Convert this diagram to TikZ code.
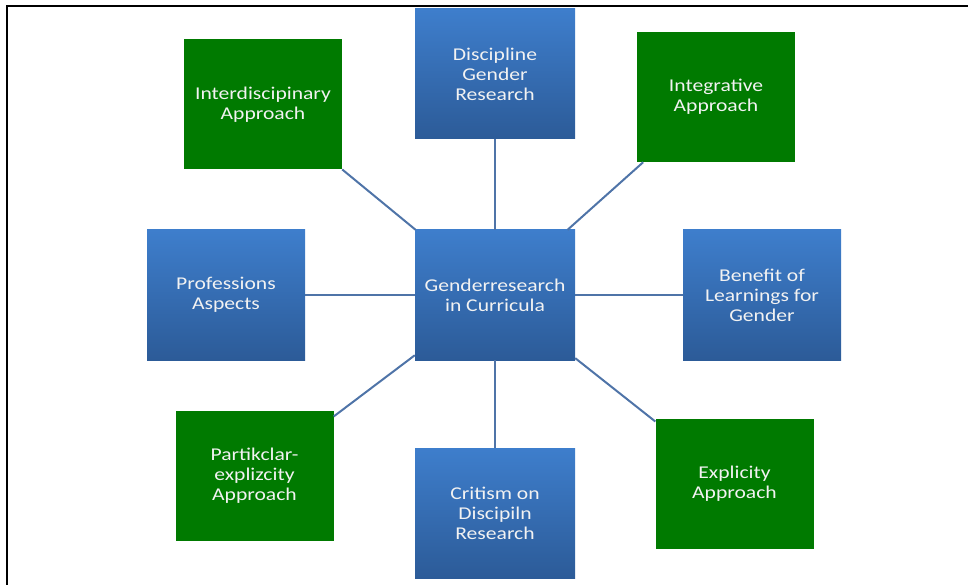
\documentclass[tikz,border=0pt]{standalone}
\usepackage{fontspec}
\setmainfont{Carlito}[FakeStretch=1.2]
\definecolor{boxtop}{RGB}{62,126,204}
\definecolor{boxbot}{RGB}{44,91,152}
\definecolor{boxgreen}{RGB}{0,122,0}
\definecolor{linkblue}{RGB}{79,116,168}
\definecolor{boxtext}{RGB}{242,242,242}
\tikzset{
  topic/.style={rectangle, inner sep=0pt, minimum width=158pt, minimum height=130pt,
                align=center, text=boxtext, font=\fontsize{18}{20}\selectfont},
  bluebox/.style={topic, top color=boxtop, bottom color=boxbot},
  greenbox/.style={topic, fill=boxgreen},
  link/.style={draw=linkblue, line width=2pt}
}
\begin{document}
\begin{tikzpicture}[x=1pt, y=-1pt]
\useasboundingbox (0,0) rectangle (968,585);
\draw[line width=2.5pt] (7,585) -- (7,6) -- (968,6);

\node[bluebox, minimum width=160pt](cent) at (495,295) {Genderresearch\\in Curricula};
\node[bluebox, minimum width=160pt](disc) at (495,74) {Discipline\\Gender\\Research};
\node[greenbox](inter) at (263,104.5) {Interdiscipinary\\Approach};
\node[greenbox](integ) at (716,97) {Integrative\\Approach};
\node[bluebox](prof) at (226,295) {Professions\\Aspects};
\node[bluebox](bene) at (762,295) {Benefit of\\Learnings for\\Gender};
\node[greenbox](part) at (254.5,476) {Partikclar-\\explizcity\\Approach};
\node[bluebox, minimum width=160pt](crit) at (495,513) {Critism on\\Discipiln\\Research};
\node[greenbox](expl) at (734.5,484) {Explicity\\Approach};

\draw[link] (disc) -- (cent);
\draw[link] (inter) -- (cent);
\draw[link] (integ) -- (cent);
\draw[link] (prof) -- (cent);
\draw[link] (bene) -- (cent);
\draw[link] (part) -- (cent);
\draw[link] (crit) -- (cent);
\draw[link] (expl) -- (cent);

\end{tikzpicture}
\end{document}
